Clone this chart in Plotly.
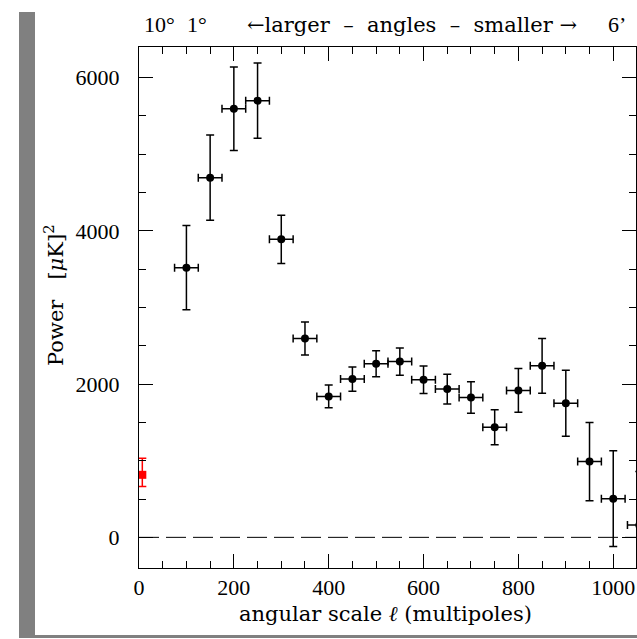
import plotly.graph_objects as go

# ---- data ----
ell = [100, 150, 200, 250, 300, 350, 400, 450, 500, 550, 600, 650, 700, 750, 800, 850, 900, 950, 1000, 1055]
power = [3520, 4695, 5595, 5700, 3890, 2595, 1840, 2066, 2265, 2295, 2057, 1935, 1826, 1436, 1918, 2239, 1750, 989, 504, 160]
power_err = [550, 555, 545, 490, 315, 215, 150, 158, 170, 178, 180, 195, 205, 228, 285, 358, 430, 510, 625, 700]
ell_halfwidth = [25] * len(ell)

cobe_ell = [7]
cobe_power = [816]
cobe_err_plus = [216]
cobe_err_minus = [152]

x_ticks = [0, 200, 400, 600, 800, 1000]
y_ticks = [0, 2000, 4000, 6000]
top_labels = ["10°", "1°", "←larger  –  angles  –  smaller →", "6’"]
top_label_px = [159, 197, 412, 617]

W, H = 637, 639
L, R, T, B = 139, 1, 47, 71
pw, ph = W - L - R, H - T - B

def px2paper_x(px):
    return (px - L) / pw

def px2paper_y(py):
    return (H - B - py) / ph

NUM_FONT = "Liberation Serif"
NUM_FS = 22
TXT_FONT = "DejaVu Serif"
TXT_FS = 21

fig = go.Figure()

fig.add_trace(go.Scatter(
    x=[0, 1048], y=[0, 0], mode="lines",
    line=dict(color="black", width=1, dash="20px,7px"),
    hoverinfo="skip", showlegend=False,
))

fig.add_trace(go.Scatter(
    x=ell, y=power, mode="markers",
    marker=dict(color="black", size=8, symbol="circle"),
    error_y=dict(type="data", array=power_err, color="black", thickness=1.5, width=4),
    error_x=dict(type="data", array=ell_halfwidth, color="black", thickness=1.5, width=4),
    showlegend=False,
))

fig.add_trace(go.Scatter(
    x=cobe_ell, y=cobe_power, mode="markers",
    marker=dict(color="red", size=8, symbol="square"),
    error_y=dict(type="data", symmetric=False, array=cobe_err_plus, arrayminus=cobe_err_minus,
                 color="red", thickness=1.5, width=4),
    showlegend=False,
))

axis_common = dict(
    showline=True, linecolor="black", linewidth=1, mirror="allticks",
    ticks="inside", ticklen=14, tickwidth=1, tickcolor="black",
    showgrid=False, zeroline=False,
    tickfont=dict(family=NUM_FONT, size=NUM_FS, color="black"),
)

fig.update_xaxes(
    range=[0, 1048], tickvals=x_ticks, ticktext=[str(v) for v in x_ticks],
    minor=dict(ticks="inside", ticklen=7, dtick=50, tickcolor="black", tickwidth=1, showgrid=False),
    ticklabelstandoff=0,
    **axis_common,
)
fig.update_yaxes(
    range=[-400, 6400], tickvals=y_ticks, ticktext=[str(v) for v in y_ticks],
    minor=dict(ticks="inside", ticklen=7, dtick=500, tickcolor="black", tickwidth=1, showgrid=False),
    ticklabelstandoff=14,
    **axis_common,
)

annotations = []
for i, (txt, px) in enumerate(zip(top_labels, top_label_px)):
    is_words = (i == 2)
    annotations.append(dict(
        text=txt, x=px2paper_x(px), y=px2paper_y(25), xref="paper", yref="paper",
        showarrow=False, xanchor="center", yanchor="middle",
        font=dict(family=TXT_FONT if is_words else NUM_FONT,
                  size=TXT_FS if is_words else NUM_FS, color="black"),
    ))
annotations.append(dict(
    text="angular scale <i>ℓ</i> (multipoles)", x=px2paper_x(385), y=px2paper_y(614),
    xref="paper", yref="paper", showarrow=False, xanchor="center", yanchor="middle",
    font=dict(family=TXT_FONT, size=TXT_FS, color="black"),
))
annotations.append(dict(
    text="Power&nbsp;&nbsp;&nbsp;[<i>μ</i>K]<sup>2</sup>", x=px2paper_x(54), y=px2paper_y(295),
    xref="paper", yref="paper", showarrow=False, xanchor="center", yanchor="middle",
    textangle=-90, font=dict(family=TXT_FONT, size=TXT_FS, color="black"),
))

shapes = [
    dict(type="rect", xref="paper", yref="paper",
         x0=px2paper_x(19), x1=px2paper_x(35), y0=px2paper_y(638), y1=px2paper_y(12),
         fillcolor="#808080", line=dict(width=0), layer="below"),
    dict(type="rect", xref="paper", yref="paper",
         x0=px2paper_x(19), x1=px2paper_x(637), y0=px2paper_y(638), y1=px2paper_y(635),
         fillcolor="#808080", line=dict(width=0), layer="below"),
]

fig.update_layout(
    width=W, height=H,
    margin=dict(l=L, r=R, t=T, b=B),
    paper_bgcolor="white", plot_bgcolor="white",
    annotations=annotations, shapes=shapes,
    showlegend=False,
)

fig.write_html(
    "out.html",
    config={"displayModeBar": False},
    post_script="document.body.style.margin='0';document.body.style.overflow='hidden';",
)
